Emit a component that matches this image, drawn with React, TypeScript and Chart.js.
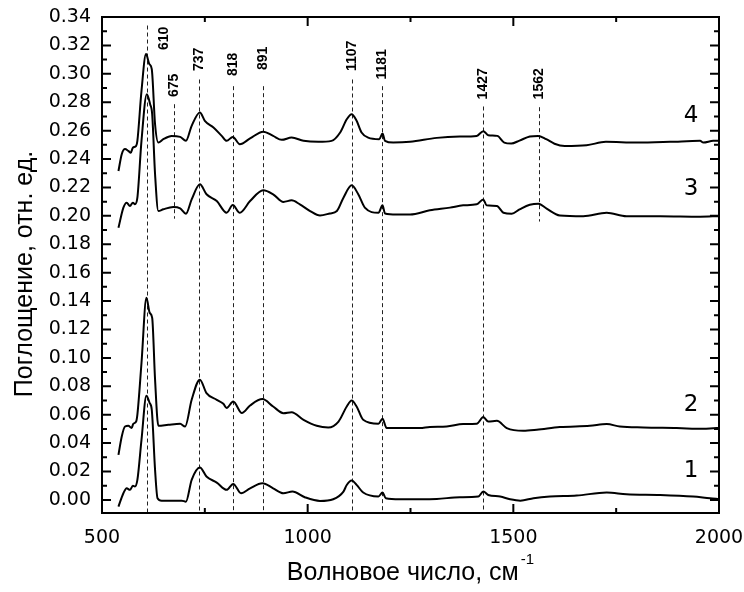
import React, { useEffect, useRef } from "react";
import { Chart, registerables } from "chart.js";
Chart.register(...registerables);

// ---- data (wavenumber, cm-1 / absorbance) ----
const x1 = [540, 552, 560, 568, 575, 580, 586, 596, 608, 616, 621, 629, 635, 645, 673, 694, 704, 718, 738, 754, 779, 803, 819, 838, 860, 890, 916, 941, 963, 993, 1030, 1062, 1087, 1095, 1107, 1119, 1135, 1172, 1182, 1190, 1224, 1273, 1314, 1370, 1415, 1427, 1439, 1468, 1492, 1517, 1549, 1589, 1654, 1727, 1775, 1857, 1937, 1978, 2000];
const y1 = [-0.0047, 0.0047, 0.0082, 0.0071, 0.0099, 0.0094, 0.0141, 0.0423, 0.0734, 0.0682, 0.0635, 0.0212, 0.0012, -0.0005, -0.0005, -0.0005, -0.0012, 0.0141, 0.0228, 0.0165, 0.0122, 0.0071, 0.0113, 0.0047, 0.0082, 0.0118, 0.0082, 0.0047, 0.0059, 0.0019, -0.0007, 0.0005, 0.0059, 0.0105, 0.0136, 0.0106, 0.0052, 0.0024, 0.0052, 0.0012, 0.0005, 0.0005, 0.0007, 0.0019, 0.0024, 0.0059, 0.0035, 0.0024, 0.0005, -0.0005, 0.0012, 0.0024, 0.0031, 0.0052, 0.004, 0.0035, 0.0024, 0.0012, 0.0007];

const x2 = [540, 548, 556, 564, 572, 576, 583, 586, 596, 608, 616, 622, 629, 637, 661, 690, 702, 718, 738, 754, 779, 795, 803, 819, 840, 860, 890, 916, 941, 961, 990, 1022, 1050, 1075, 1095, 1107, 1119, 1135, 1172, 1182, 1192, 1232, 1273, 1297, 1338, 1378, 1411, 1427, 1439, 1460, 1484, 1524, 1557, 1613, 1686, 1727, 1759, 1816, 1897, 1962, 1994, 2000];
const y2 = [0.0317, 0.0447, 0.0517, 0.0522, 0.0506, 0.0536, 0.0552, 0.06, 0.0964, 0.1423, 0.1317, 0.1282, 0.0847, 0.0522, 0.0529, 0.0536, 0.0517, 0.0705, 0.0847, 0.0752, 0.0705, 0.0677, 0.0647, 0.0693, 0.0612, 0.0665, 0.071, 0.0658, 0.0611, 0.0618, 0.0564, 0.0522, 0.051, 0.0552, 0.0658, 0.07, 0.0658, 0.0564, 0.0536, 0.0571, 0.0506, 0.0506, 0.0506, 0.0514, 0.0517, 0.0534, 0.0536, 0.0583, 0.0552, 0.0557, 0.0506, 0.0487, 0.0494, 0.0513, 0.0522, 0.0534, 0.0517, 0.051, 0.0506, 0.0501, 0.0506, 0.0506];

const x3 = [540, 552, 560, 568, 575, 580, 586, 596, 609, 617, 622, 629, 637, 649, 673, 690, 704, 718, 738, 754, 779, 803, 818, 835, 860, 892, 916, 941, 961, 981, 1006, 1030, 1054, 1071, 1087, 1107, 1123, 1139, 1172, 1182, 1188, 1216, 1249, 1297, 1346, 1378, 1411, 1427, 1435, 1460, 1476, 1496, 1515, 1540, 1561, 1581, 1613, 1670, 1727, 1775, 1857, 1954, 2000];
const y3 = [0.1916, 0.2058, 0.2093, 0.2069, 0.2093, 0.2081, 0.2128, 0.2528, 0.2857, 0.2786, 0.2716, 0.2293, 0.2034, 0.2046, 0.2062, 0.2053, 0.2015, 0.2116, 0.2222, 0.2152, 0.2104, 0.2022, 0.2076, 0.2022, 0.2104, 0.218, 0.2152, 0.2098, 0.2109, 0.2081, 0.2034, 0.2003, 0.2017, 0.2034, 0.2128, 0.2215, 0.2152, 0.2058, 0.2022, 0.2074, 0.2017, 0.201, 0.201, 0.2039, 0.2058, 0.2074, 0.2081, 0.2116, 0.2074, 0.2069, 0.2022, 0.2015, 0.2045, 0.2078, 0.2086, 0.2051, 0.2003, 0.1998, 0.2022, 0.1998, 0.1998, 0.1994, 0.1998];

const x4 = [540, 548, 556, 564, 570, 575, 583, 586, 596, 607, 615, 621, 629, 637, 649, 669, 690, 704, 718, 738, 750, 771, 791, 803, 818, 835, 860, 892, 916, 937, 961, 990, 1026, 1058, 1079, 1095, 1107, 1119, 1131, 1147, 1174, 1182, 1188, 1208, 1249, 1314, 1370, 1411, 1427, 1439, 1461, 1478, 1495, 1515, 1540, 1560, 1580, 1600, 1625, 1678, 1725, 1800, 1881, 1954, 1962, 1986, 2000];
const y4 = [0.2316, 0.2434, 0.247, 0.2457, 0.2445, 0.248, 0.2493, 0.2528, 0.288, 0.3139, 0.3069, 0.3033, 0.2645, 0.2516, 0.254, 0.2563, 0.2556, 0.2528, 0.2634, 0.2728, 0.2669, 0.2622, 0.2563, 0.2528, 0.2556, 0.2504, 0.2545, 0.2593, 0.2563, 0.2535, 0.2551, 0.2528, 0.2521, 0.2528, 0.2587, 0.268, 0.2716, 0.2669, 0.2587, 0.2551, 0.254, 0.258, 0.2528, 0.2516, 0.2521, 0.2549, 0.2558, 0.2563, 0.2596, 0.2568, 0.2563, 0.2516, 0.2509, 0.253, 0.2558, 0.2563, 0.254, 0.2508, 0.2492, 0.2497, 0.2521, 0.2516, 0.2521, 0.2528, 0.2516, 0.2528, 0.2528];

const curveNames = ["1", "2", "3", "4"];
const curveLabelX = [1932, 1932, 1932, 1932];
const curveLabelY = [0.0205, 0.067, 0.2187, 0.27];

const peakPositions = [610, 675, 737, 818, 891, 1107, 1181, 1427, 1562];
const peakLabels = ["610", "675", "737", "818", "891", "1107", "1181", "1427", "1562"];
const peakLabelX = [652, 675, 737, 818, 891, 1107, 1181, 1427, 1562];
const peakLabelBase = [0.3167, 0.2836, 0.302, 0.2984, 0.3026, 0.302, 0.296, 0.282, 0.282];
const peakLineTop = [0.334, 0.2786, 0.296, 0.2913, 0.2913, 0.296, 0.2913, 0.277, 0.2765];
const peakLineBottom = [-0.0092, 0.198, -0.0092, -0.0092, -0.0092, -0.0092, -0.0092, -0.0092, 0.196];

const xMajorTicks = [500, 1000, 1500, 2000];
const xMinorTicks = [750, 1250, 1750];
const yMajorTicks = [0, 0.02, 0.04, 0.06, 0.08, 0.1, 0.12, 0.14, 0.16, 0.18, 0.2, 0.22, 0.24, 0.26, 0.28, 0.3, 0.32, 0.34];
const yMinorTicks = [0.01, 0.03, 0.05, 0.07, 0.09, 0.11, 0.13, 0.15, 0.17, 0.19, 0.21, 0.23, 0.25, 0.27, 0.29, 0.31, 0.33];

const X_MIN = 500, X_MAX = 2000, Y_MIN = -0.0092, Y_MAX = 0.34;
const xTitle = "Волновое число, см";
const xTitleSup = "-1";
const yTitle = "Поглощение, отн. ед.";

const decor = {
  id: "decor",
  beforeDatasetsDraw(chart: any) {
    const { ctx, scales } = chart;
    const xs = scales.x, ys = scales.y;
    ctx.save();
    ctx.strokeStyle = "#222";
    ctx.lineWidth = 1;
    ctx.setLineDash([4, 3]);
    peakPositions.forEach((p, i) => {
      const px = Math.round(xs.getPixelForValue(p)) + 0.5;
      ctx.beginPath();
      ctx.moveTo(px, ys.getPixelForValue(peakLineTop[i]));
      ctx.lineTo(px, ys.getPixelForValue(peakLineBottom[i]));
      ctx.stroke();
    });
    ctx.restore();
  },
  afterDatasetsDraw(chart: any) {
    const { ctx, scales, chartArea } = chart;
    const xs = scales.x, ys = scales.y;
    const { left, right, top, bottom } = chartArea;
    ctx.save();
    ctx.strokeStyle = "#000";
    ctx.lineWidth = 2;
    ctx.setLineDash([]);
    ctx.strokeRect(left, top, right - left, bottom - top);
    ctx.beginPath();
    const tickX = (v: number, len: number) => {
      const px = xs.getPixelForValue(v);
      ctx.moveTo(px, bottom); ctx.lineTo(px, bottom - len);
      ctx.moveTo(px, top); ctx.lineTo(px, top + len);
    };
    const tickY = (v: number, len: number) => {
      const py = ys.getPixelForValue(v);
      ctx.moveTo(left, py); ctx.lineTo(left + len, py);
      ctx.moveTo(right, py); ctx.lineTo(right - len, py);
    };
    xMajorTicks.forEach((v) => tickX(v, 9));
    xMinorTicks.forEach((v) => tickX(v, 5));
    yMajorTicks.forEach((v) => tickY(v, 9));
    yMinorTicks.forEach((v) => tickY(v, 5));
    ctx.stroke();

    // peak labels
    ctx.fillStyle = "#000";
    ctx.font = "bold 14px 'Liberation Sans', Arial, sans-serif";
    ctx.textAlign = "left";
    ctx.textBaseline = "middle";
    peakLabels.forEach((t, i) => {
      ctx.save();
      ctx.translate(xs.getPixelForValue(peakLabelX[i]), ys.getPixelForValue(peakLabelBase[i]));
      ctx.rotate(-Math.PI / 2);
      ctx.fillText(t, 0, 0);
      ctx.restore();
    });

    // curve numbers
    ctx.font = "23px 'DejaVu Sans', sans-serif";
    ctx.textAlign = "center";
    ctx.textBaseline = "middle";
    curveNames.forEach((t, i) => {
      ctx.fillText(t, xs.getPixelForValue(curveLabelX[i]), ys.getPixelForValue(curveLabelY[i]));
    });

    // x title with superscript
    ctx.font = "25px 'Liberation Sans', Arial, sans-serif";
    const wMain = ctx.measureText(xTitle).width;
    ctx.font = "15px 'Liberation Sans', Arial, sans-serif";
    const wSup = ctx.measureText(xTitleSup).width;
    const cx = (left + right) / 2;
    const startX = cx - (wMain + wSup + 2) / 2;
    ctx.textAlign = "left";
    ctx.textBaseline = "alphabetic";
    ctx.font = "25px 'Liberation Sans', Arial, sans-serif";
    ctx.fillText(xTitle, startX, 580);
    ctx.font = "15px 'Liberation Sans', Arial, sans-serif";
    ctx.fillText(xTitleSup, startX + wMain + 2, 564);

    // y title
    ctx.font = "25px 'Liberation Sans', Arial, sans-serif";
    ctx.textAlign = "center";
    ctx.save();
    ctx.translate(32, 274);
    ctx.rotate(-Math.PI / 2);
    ctx.fillText(yTitle, 0, 0);
    ctx.restore();
    ctx.restore();
  },
};

const mk = (xs: number[], ys: number[]) => xs.map((x, i) => ({ x, y: ys[i] }));

export default function App() {
  const ref = useRef<HTMLCanvasElement>(null);
  useEffect(() => {
    if (!ref.current) return;
    const ds = (d: any) => ({
      data: d,
      borderColor: "#000",
      borderWidth: 2,
      pointRadius: 0,
      fill: false,
      cubicInterpolationMode: "monotone" as const,
    });
    const chart = new Chart(ref.current, {
      type: "line",
      data: {
        datasets: [ds(mk(x1, y1)), ds(mk(x2, y2)), ds(mk(x3, y3)), ds(mk(x4, y4))],
      },
      options: {
        responsive: false,
        animation: false,
        events: [],
        layout: { padding: { left: 0, top: 17, right: 25, bottom: 0 } },
        plugins: { legend: { display: false }, tooltip: { enabled: false }, title: { display: false } },
        scales: {
          x: {
            type: "linear",
            min: X_MIN,
            max: X_MAX,
            grid: { display: false, drawTicks: false },
            border: { display: false },
            afterBuildTicks: (s: any) => { s.ticks = xMajorTicks.map((v) => ({ value: v })); },
            afterFit: (s: any) => {
              s.height = 79;
              s.paddingLeft = 0; s.paddingRight = 0; s.paddingTop = 0; s.paddingBottom = 0;
            },
            ticks: {
              padding: 14,
              color: "#000",
              maxRotation: 0,
              font: { family: "'DejaVu Sans', sans-serif", size: 19 },
              callback: (v: any) => String(v),
            },
          },
          y: {
            type: "linear",
            min: Y_MIN,
            max: Y_MAX,
            grid: { display: false, drawTicks: false },
            border: { display: false },
            afterBuildTicks: (s: any) => { s.ticks = yMajorTicks.map((v) => ({ value: v })); },
            afterFit: (s: any) => {
              s.width = 102;
              s.paddingLeft = 0; s.paddingRight = 0; s.paddingTop = 0; s.paddingBottom = 0;
            },
            ticks: {
              padding: 11,
              color: "#000",
              font: { family: "'DejaVu Sans', sans-serif", size: 19 },
              callback: (v: any) => Number(v).toFixed(2),
            },
          },
        },
      },
      plugins: [decor],
    });
    return () => chart.destroy();
  }, []);
  return (
    <div style={{ position: "absolute", left: 0, top: 0, width: 744, height: 592, background: "#fff" }}>
      <canvas ref={ref} width={744} height={592} style={{ display: "block" }} />
    </div>
  );
}
